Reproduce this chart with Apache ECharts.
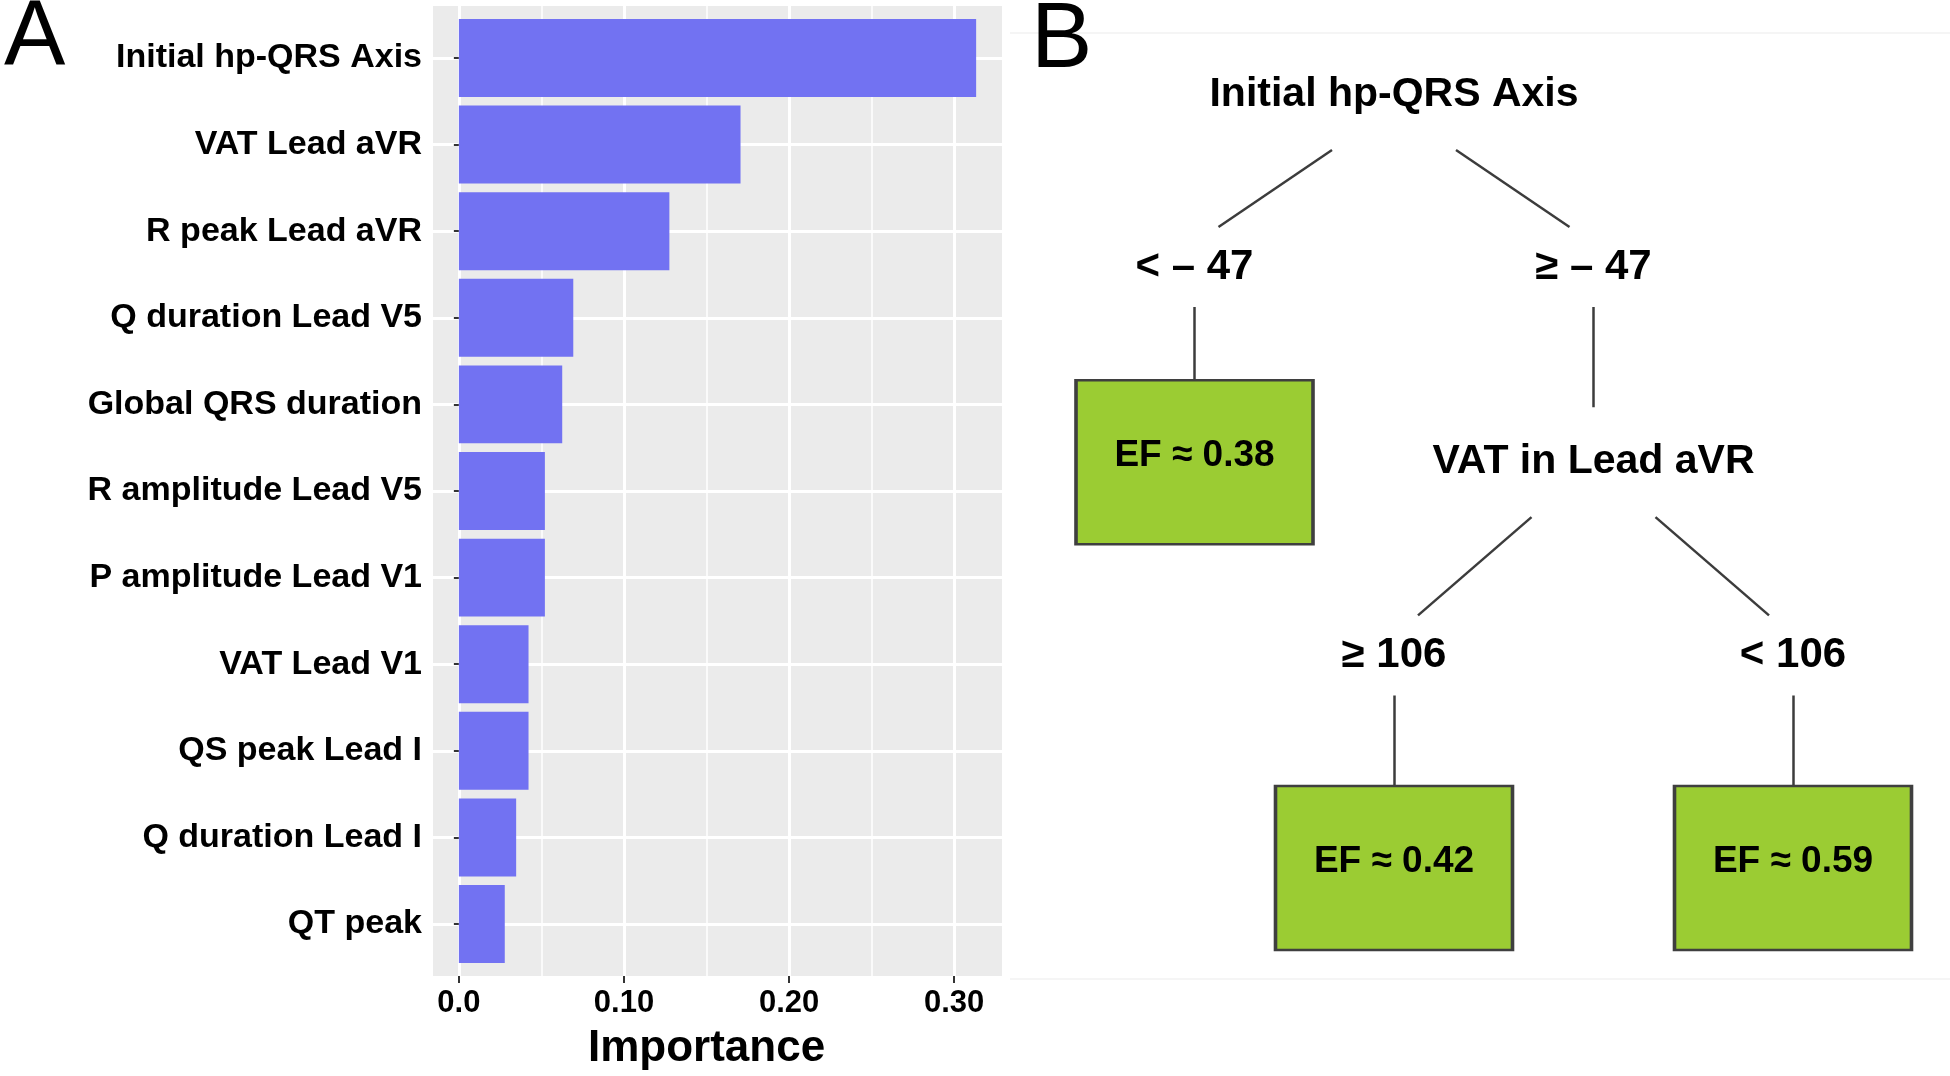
<!DOCTYPE html>
<html>
<head>
<meta charset="utf-8">
<script src="https://cdn.jsdelivr.net/npm/echarts@6/dist/echarts.min.js"></script>
<style>
  html, body { margin: 0; padding: 0; background: #fff; }
  #main { width: 1950px; height: 1076px; }
</style>
</head>
<body>
<div id="main"></div>
<script>
// panel A - feature importance (top to bottom)
var features = ['Initial hp-QRS Axis', 'VAT Lead aVR', 'R peak Lead aVR', 'Q duration Lead V5',
  'Global QRS duration', 'R amplitude Lead V5', 'P amplitude Lead V1', 'VAT Lead V1',
  'QS peak Lead I', 'Q duration Lead I', 'QT peak'];
var importance = [0.3133, 0.1706, 0.1275, 0.0693, 0.0626, 0.0521, 0.0521, 0.0422, 0.0422, 0.0347, 0.0278];
var importanceTicks = ['0.0', '0.10', '0.20', '0.30'];

// panel B - decision tree (col = horizontal slot, row = tree level)
var nodeNames = ['Initial hp-QRS Axis', '< \u2013 47', '\u2265 \u2013 47', 'EF \u2248 0.38', 'VAT in Lead aVR',
  '\u2265 106', '< 106', 'EF \u2248 0.42', 'EF \u2248 0.59'];
var nodeCol = [0, -0.5, 0.5, -0.5, 0.5, 0, 1, 0, 1];
var nodeRow = [0, 0.89, 0.89, 1.9, 1.9, 2.9, 2.9, 4, 4];
var nodeKind = ['split', 'cond', 'cond', 'leaf', 'split', 'cond', 'cond', 'leaf', 'leaf'];
var treeLinks = [[0, 1], [0, 2], [1, 3], [2, 4], [4, 5], [4, 6], [5, 7], [6, 8]];

var FONT = "'Liberation Sans', Arial, sans-serif";

// ggplot-like panel for A
var panel = { left: 433, top: 6, width: 569, height: 970 };
var band = panel.height / (features.length + 0.2);   // 0.6 expansion each side
var maxImp = Math.max.apply(null, importance);
var xLo = -0.05 * maxImp, xHi = maxImp * 1.05;
var pxPerUnit = panel.width / (xHi - xLo);
var tickMax = 0.3;

// tree layout scale for B
var tree = { x0: 1394, y0: 95, ux: 399, uy: 193.25, colMin: -1, colMax: 1.3, rowMin: -0.4, rowMax: 4.5 };
var gapPx = { split: 55, cond: 40, leaf: 82 };
var boxSize = [237, 164];

var linkData = treeLinks.map(function (l) {
  var p = l[0], c = l[1];
  var dir = Math.sign(nodeCol[c] - nodeCol[p]);
  return {
    coords: [
      [nodeCol[p] + dir * 62 / tree.ux, nodeRow[p] + gapPx[nodeKind[p]] / tree.uy],
      [nodeCol[c] - dir * 24 / tree.ux, nodeRow[c] - gapPx[nodeKind[c]] / tree.uy]
    ]
  };
});

var textNodes = [], leafNodes = [];
nodeNames.forEach(function (n, i) {
  var item = { name: n, value: [nodeCol[i], nodeRow[i]] };
  if (nodeKind[i] === 'leaf') leafNodes.push(item);
  else {
    item.label = { fontSize: nodeKind[i] === 'split' ? 41 : 42 };
    textNodes.push(item);
  }
});

var chart = echarts.init(document.getElementById('main'));
chart.setOption({
  animation: false,
  backgroundColor: '#fff',
  textStyle: { fontFamily: FONT },
  title: [
    { text: 'A', left: 4, top: -6, padding: 0, textStyle: { fontSize: 92, fontWeight: 'normal', color: '#000', fontFamily: FONT } },
    { text: 'B', left: 1031, top: -4, padding: 0, textStyle: { fontSize: 92, fontWeight: 'normal', color: '#000', fontFamily: FONT } }
  ],
  // faint frame lines around panel B
  graphic: [
    { type: 'line', silent: true, z: -10, shape: { x1: 1010, y1: 33, x2: 1950, y2: 33 },
      style: { stroke: '#f2f2f2', lineWidth: 1.5 } },
    { type: 'line', silent: true, z: -10, shape: { x1: 1010, y1: 979, x2: 1950, y2: 979 },
      style: { stroke: '#f2f2f2', lineWidth: 1.5 } }
  ],
  grid: [
    // 0: grey panel background
    { left: panel.left, top: panel.top, width: panel.width, height: panel.height,
      show: true, backgroundColor: '#EBEBEB', borderWidth: 0, outerBoundsMode: 'none' },
    // 1: bars
    { left: panel.left, top: panel.top + 0.1 * band, width: panel.width, height: band * features.length,
      outerBoundsMode: 'none' },
    // 2: vertical grid lines, ticks, labels
    { left: panel.left + (0 - xLo) * pxPerUnit, top: panel.top, width: tickMax * pxPerUnit, height: panel.height,
      outerBoundsMode: 'none' },
    // 3: tree
    { left: tree.x0 + tree.colMin * tree.ux, width: (tree.colMax - tree.colMin) * tree.ux,
      top: tree.y0 + tree.rowMin * tree.uy, height: (tree.rowMax - tree.rowMin) * tree.uy,
      outerBoundsMode: 'none' }
  ],
  xAxis: [
    { gridIndex: 0, type: 'value', min: 0, max: 1, show: false },
    { gridIndex: 1, type: 'value', min: xLo, max: xHi, show: false },
    { gridIndex: 2, type: 'value', min: 0, max: tickMax, interval: 0.1,
      axisLine: { show: false },
      axisTick: { show: true, length: 7, lineStyle: { color: '#333', width: 2 } },
      axisLabel: { margin: 12, fontSize: 31, fontWeight: 'bold', color: '#000', fontFamily: FONT,
        formatter: function (v, i) { return importanceTicks[i]; } },
      splitLine: { show: true, lineStyle: { color: '#fff', width: 3 } },
      minorTick: { show: false, splitNumber: 2 },
      minorSplitLine: { show: true, lineStyle: { color: '#fff', width: 1.5 } },
      name: 'Importance', nameLocation: 'middle', nameGap: 51,
      nameTextStyle: { fontSize: 44, fontWeight: 'bold', color: '#000', fontFamily: FONT } },
    { gridIndex: 3, type: 'value', min: tree.colMin, max: tree.colMax, show: false }
  ],
  yAxis: [
    { gridIndex: 0, type: 'value', min: 0, max: 1, show: false },
    { gridIndex: 1, type: 'category', data: features, inverse: true,
      axisLine: { show: false },
      axisTick: { show: true, alignWithLabel: true, interval: 0, length: 5, lineStyle: { color: '#333', width: 2 } },
      axisLabel: { interval: 0, margin: 11, fontSize: 34, fontWeight: 'bold', color: '#000', fontFamily: FONT },
      splitLine: { show: true, alignWithLabel: true, interval: 0, lineStyle: { color: '#fff', width: 3 } } },
    { gridIndex: 2, type: 'value', min: 0, max: 1, show: false },
    { gridIndex: 3, type: 'value', inverse: true, min: tree.rowMin, max: tree.rowMax, show: false }
  ],
  series: [
    { type: 'bar', xAxisIndex: 1, yAxisIndex: 1, data: importance, barWidth: '90%',
      itemStyle: { color: '#7272F2' }, silent: true },
    { type: 'lines', coordinateSystem: 'cartesian2d', xAxisIndex: 3, yAxisIndex: 3, data: linkData,
      lineStyle: { color: '#3c3c3c', width: 2.5, opacity: 1, curveness: 0 }, silent: true },
    { type: 'scatter', xAxisIndex: 3, yAxisIndex: 3, data: leafNodes, symbol: 'rect', symbolSize: boxSize,
      itemStyle: { color: '#9BCC33', borderColor: '#3f3f3f', borderWidth: 3, opacity: 1 }, silent: true,
      label: { show: true, position: 'inside', offset: [0, -6], formatter: '{b}', fontSize: 37,
        fontWeight: 'bold', color: '#000', fontFamily: FONT } },
    { type: 'scatter', xAxisIndex: 3, yAxisIndex: 3, data: textNodes, symbolSize: 1,
      itemStyle: { color: 'rgba(0,0,0,0)', opacity: 1 }, silent: true,
      label: { show: true, position: 'inside', formatter: '{b}', fontWeight: 'bold', color: '#000',
        textBorderWidth: 0, fontFamily: FONT } }
  ]
});
</script>
</body>
</html>
